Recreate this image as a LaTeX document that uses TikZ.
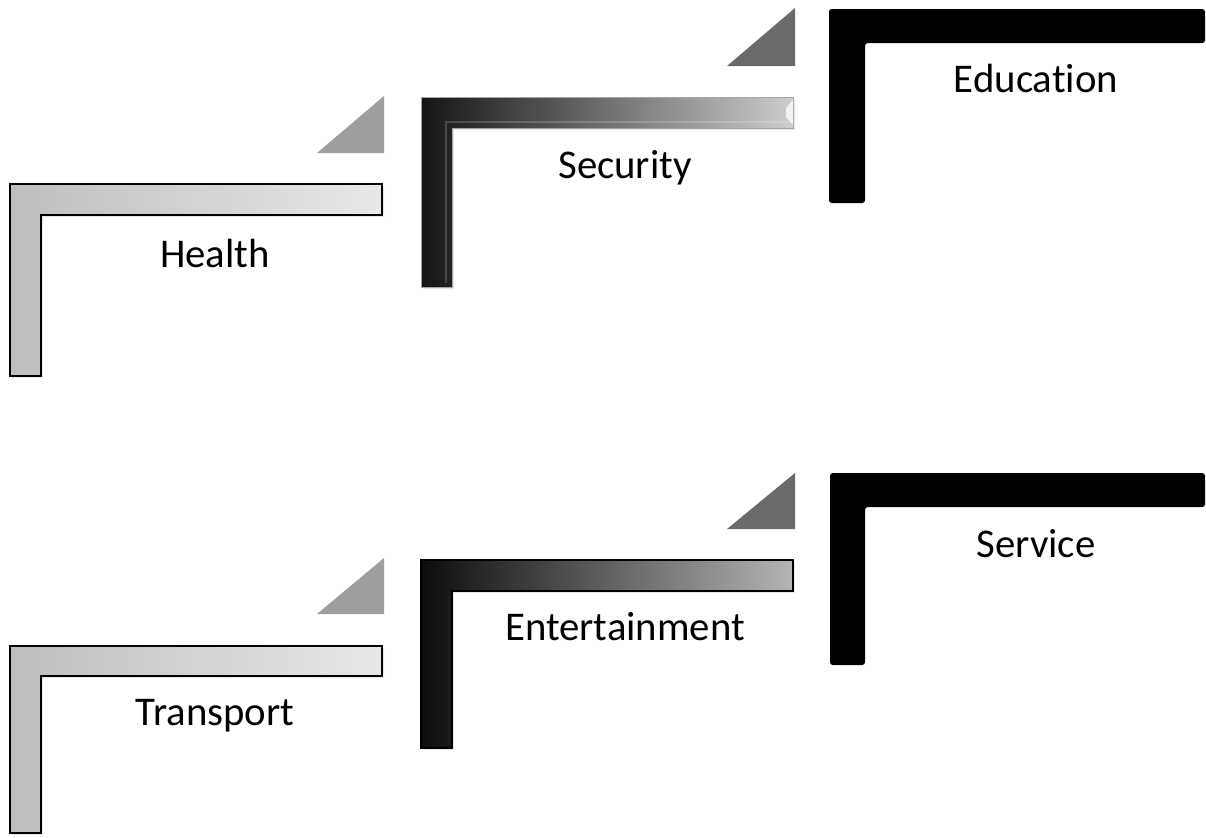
\documentclass[tikz,border=0pt]{standalone}
\usepackage{fontspec}
\setmainfont{Carlito}[Ligatures=NoCommon]
\usepackage{tikz}
\usetikzlibrary{ shadows,     % For the soft shadow under the bars
               }
\definecolor{barlight}{HTML}{BEBEBE}
\definecolor{barpale}{HTML}{E8E8E8}
\definecolor{barmid}{HTML}{B4B4B4}
\definecolor{barsilver}{HTML}{CDCDCD}
\definecolor{trilight}{HTML}{9E9E9E}
\definecolor{tridark}{HTML}{6A6A6A}
\tikzstyle{barshadow} = [drop shadow={opacity=0.18, shadow xshift=1.5pt, shadow yshift=-1.5pt}]
\tikzstyle{lightbar} = [draw=black, line width=0.9pt, left color=barlight, right color=barpale, barshadow]
\tikzstyle{darkbar} = [draw=black, line width=0.9pt, left color=black!95, right color=barmid, barshadow]
\tikzstyle{glossbar} = [draw=gray!70, line width=0.6pt, left color=black!92, right color=barsilver, barshadow]
\tikzstyle{solidbar} = [fill=black, rounded corners=2pt]
\tikzstyle{lighttri} = [fill=trilight]
\tikzstyle{darktri} = [fill=tridark]
\tikzstyle{barlabel} = [anchor=base, inner sep=0pt, font=\fontsize{29}{34}\selectfont]

\begin{document}
\begin{tikzpicture}[x=0.025cm, y=-0.025cm]
  \useasboundingbox (0,0) rectangle (1206,837);

  % upper row
  \draw [lightbar] (10,184) -- (382,184) -- (382,215) -- (41,215) -- (41,376) -- (10,376) -- cycle;
  \fill [lighttri] (317,153) -- (384,96) -- (384,153) -- cycle;
  \node (health) [barlabel] at (215,267) {Health};

  \draw [glossbar] (421,97) -- (793,97) -- (793,128) -- (452,128) -- (452,287) -- (421,287) -- cycle;
  \draw [white, opacity=0.18, line width=1.5pt] (446,283) -- (446,122) -- (788,122);
  \fill [white, opacity=0.8] (793,100) -- (786,108) -- (786,117) -- (793,125) -- cycle;
  \fill [darktri] (727,66) -- (795,8) -- (795,66) -- cycle;
  \node (security) [barlabel] at (625,178) {Security};

  \fill [solidbar] (829,9) -- (1205,9) -- (1205,43) -- (865,43) -- (865,203) -- (829,203) -- cycle;
  \node (education) [barlabel] at (1036,92) {Education};

  % lower row
  \draw [lightbar] (10,646) -- (382,646) -- (382,676) -- (41,676) -- (41,833) -- (10,833) -- cycle;
  \fill [lighttri] (317,614) -- (384,558) -- (384,614) -- cycle;
  \node (transport) [barlabel] at (215,725) {Transport};

  \draw [darkbar] (421,560) -- (793,560) -- (793,591) -- (452,591) -- (452,748) -- (421,748) -- cycle;
  \fill [darktri] (727,529) -- (795,473) -- (795,529) -- cycle;
  \node (entertainment) [barlabel] at (625,640) {Entertainment};

  \fill [solidbar] (830,473) -- (1205,473) -- (1205,507) -- (865,507) -- (865,665) -- (830,665) -- cycle;
  \node (service) [barlabel] at (1036,557) {Service};
\end{tikzpicture}
\end{document}
